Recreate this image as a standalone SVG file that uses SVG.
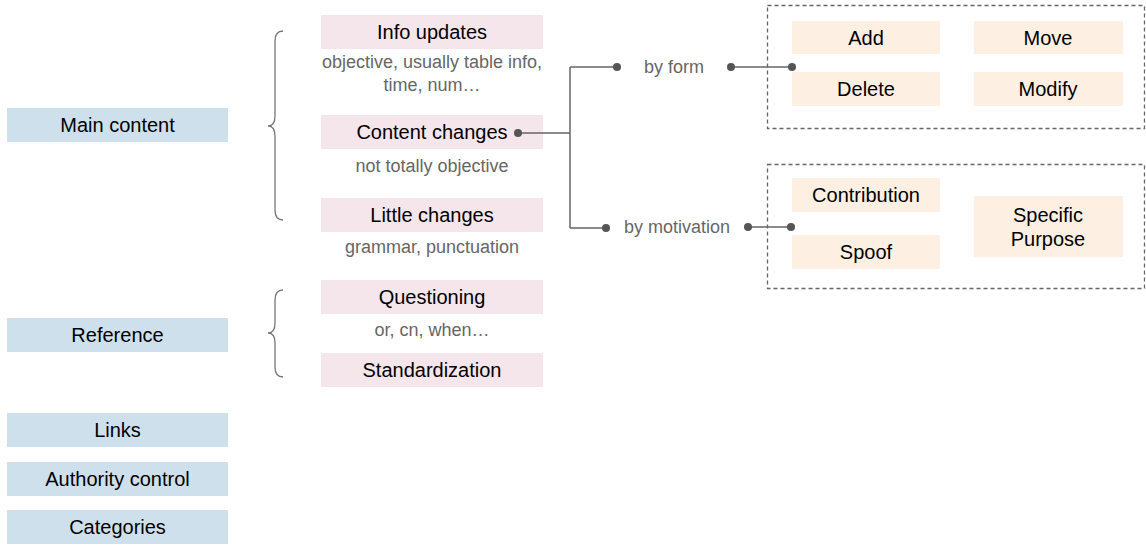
<svg xmlns="http://www.w3.org/2000/svg" width="1146" height="545" viewBox="0 0 1146 545">
<style>
text{font-family:"Liberation Sans",Arial,sans-serif;text-anchor:middle}
.lbl{font-size:20px;fill:#000}
.sub{font-size:18px;fill:#666}
.blue{fill:#cfe0ed}
.pink{fill:#f4e6eb}
.orange{fill:#fdf0e2}
.ln{fill:none;stroke:#666;stroke-width:1.5}
.dot{fill:#555}
.dash{fill:none;stroke:#666;stroke-width:1.3;stroke-dasharray:4 3}
.brace{fill:none;stroke:#777;stroke-width:1.3}
</style>
<rect width="1146" height="545" fill="#fff"/>
<g id="main-content"><rect class="blue" x="7" y="108" width="221" height="34"/><text class="lbl" x="117.5" y="132">Main content</text></g>
<g id="reference"><rect class="blue" x="7" y="318" width="221" height="34"/><text class="lbl" x="117.5" y="342">Reference</text></g>
<g id="links"><rect class="blue" x="7" y="413" width="221" height="34"/><text class="lbl" x="117.5" y="437">Links</text></g>
<g id="authority-control"><rect class="blue" x="7" y="462" width="221" height="34"/><text class="lbl" x="117.5" y="486">Authority control</text></g>
<g id="categories"><rect class="blue" x="7" y="510" width="221" height="34"/><text class="lbl" x="117.5" y="534">Categories</text></g>
<g id="braces">
<path class="brace" d="M283,31 Q275,31 275,41 L275,116 Q275,126 268,126 Q275,126 275,136 L275,210 Q275,220 283,220"/>
<path class="brace" d="M283,290 Q275,290 275,300 L275,323 Q275,333 268,333 Q275,333 275,343 L275,367 Q275,377 283,377"/>
</g>
<g id="info-updates"><rect class="pink" x="321" y="15" width="222" height="34"/><text class="lbl" x="432" y="39">Info updates</text>
<text class="sub" x="432" y="68">objective, usually table info,</text><text class="sub" x="432" y="91">time, num…</text></g>
<g id="content-changes"><rect class="pink" x="321" y="115" width="222" height="34"/><text class="lbl" x="432" y="139">Content changes</text>
<text class="sub" x="432" y="172">not totally objective</text></g>
<g id="little-changes"><rect class="pink" x="321" y="198" width="222" height="34"/><text class="lbl" x="432" y="222">Little changes</text>
<text class="sub" x="432" y="253">grammar, punctuation</text></g>
<g id="questioning"><rect class="pink" x="321" y="280" width="222" height="34"/><text class="lbl" x="432" y="304">Questioning</text>
<text class="sub" x="432" y="336">or, cn, when…</text></g>
<g id="standardization"><rect class="pink" x="321" y="353" width="222" height="34"/><text class="lbl" x="432" y="377">Standardization</text></g>
<g id="by-form"><text class="sub" x="674" y="73">by form</text></g>
<g id="by-motivation"><text class="sub" x="677" y="233">by motivation</text></g>
<g id="form-group"><rect class="dash" x="767.5" y="5.5" width="377" height="123"/>
<rect class="orange" x="792" y="21" width="148" height="33"/><text class="lbl" x="866" y="45">Add</text>
<rect class="orange" x="974" y="21" width="149" height="33"/><text class="lbl" x="1048" y="45">Move</text>
<rect class="orange" x="792" y="72" width="148" height="34"/><text class="lbl" x="866" y="96">Delete</text>
<rect class="orange" x="974" y="72" width="149" height="34"/><text class="lbl" x="1048" y="96">Modify</text></g>
<g id="motivation-group"><rect class="dash" x="767.5" y="164.5" width="377" height="124"/>
<rect class="orange" x="792" y="178" width="148" height="34"/><text class="lbl" x="866" y="202">Contribution</text>
<rect class="orange" x="792" y="235" width="148" height="34"/><text class="lbl" x="866" y="259">Spoof</text>
<rect class="orange" x="974" y="196" width="149" height="61"/><text class="lbl" x="1048" y="222">Specific</text><text class="lbl" x="1048" y="246">Purpose</text></g>
<g id="connectors">
<path class="ln" d="M518,133 H570 M570,67 V228 M570,67 H617 M570,228 H606 M731,67 H792 M748,227 H791"/>
<circle class="dot" cx="518" cy="133" r="4"/>
<circle class="dot" cx="617" cy="67" r="4"/>
<circle class="dot" cx="606" cy="228" r="4"/>
<circle class="dot" cx="731" cy="67" r="4"/>
<circle class="dot" cx="792" cy="67" r="4"/>
<circle class="dot" cx="748" cy="227" r="4"/>
<circle class="dot" cx="791" cy="227" r="4"/>
</g>
</svg>
